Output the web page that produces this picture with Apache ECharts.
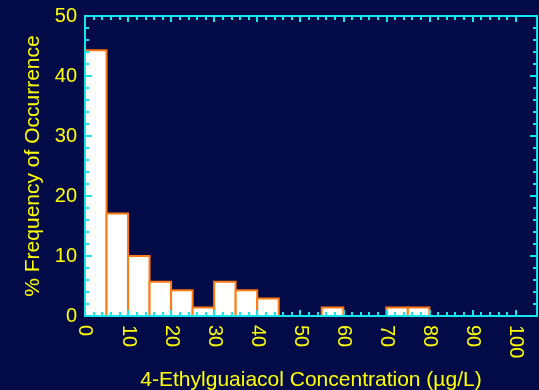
<!DOCTYPE html>
<html><head><meta charset="utf-8">
<script src="https://cdn.jsdelivr.net/npm/echarts@6/dist/echarts.min.js"></script>
<style>html,body{margin:0;padding:0;background:#020B48;}#c{width:539px;height:390px;}</style>
</head><body><div id="c"></div>
<script>
const binStarts = [0, 5, 10, 15, 20, 25, 30, 35, 40, 45, 50, 55, 60, 65, 70, 75];
const binWidth = 5;
const frequency = [44.3, 17.1, 10.0, 5.7, 4.3, 1.4, 5.7, 4.3, 2.9, 0, 0, 1.4, 0, 0, 1.4, 1.4];
const xTicks = [0, 10, 20, 30, 40, 50, 60, 70, 80, 90, 100];
const xMinorTicks = [0, 2, 4, 6, 8, 10, 12, 14, 16, 18, 20, 22, 24, 26, 28, 30, 32, 34, 36, 38, 40, 42, 44, 46, 48, 50,
  52, 54, 56, 58, 60, 62, 64, 66, 68, 70, 72, 74, 76, 78, 80, 82, 84, 86, 88, 90, 92, 94, 96, 98, 100];
const yTicks = [0, 10, 20, 30, 40, 50];
const xTitle = '4-Ethylguaiacol Concentration (µg/L)';
const yTitle = '% Frequency of Occurrence';

const cyan = '#14E6EC', yellow = '#FFFF00', orange = '#FF7A10', bg = '#020B48';
const font = 'Liberation Sans';
const data = binStarts.map((s, i) => [s, s + binWidth, frequency[i]]);

const axisLine = { show: true, onZero: false, lineStyle: { color: cyan, width: 2 } };

function xAxisDef(position, ticks, len, extra) {
  return Object.assign({
    type: 'value', min: 0, max: 105, position: position,
    axisLine: axisLine,
    axisTick: { show: true, inside: true, length: len, customValues: ticks, lineStyle: { color: cyan, width: 2 } },
    axisLabel: { show: false },
    splitLine: { show: false },
    z: 10
  }, extra || {});
}
function yAxisDef(position, extra) {
  return Object.assign({
    type: 'value', min: 0, max: 50, interval: 10, position: position,
    axisLine: axisLine,
    axisTick: { show: true, inside: true, length: 7, lineStyle: { color: cyan, width: 2 } },
    minorTick: { show: true, splitNumber: 5, length: 4, lineStyle: { color: cyan, width: 2 } },
    axisLabel: { show: false },
    splitLine: { show: false },
    z: 10
  }, extra || {});
}

const chart = echarts.init(document.getElementById('c'), null, { renderer: 'canvas' });
chart.setOption({
  backgroundColor: bg,
  animation: false,
  grid: { left: 85, top: 16, right: 2, bottom: 74, show: false, containLabel: false, outerBoundsMode: 'none' },
  xAxis: [
    xAxisDef('bottom', xTicks, 6, {
      name: xTitle, nameLocation: 'middle', nameGap: 54,
      nameTextStyle: { color: yellow, fontSize: 21, fontFamily: font },
      axisLabel: { show: true, color: yellow, fontSize: 20, fontFamily: font, rotate: -90, margin: 9, customValues: xTicks }
    }),
    xAxisDef('bottom', xMinorTicks, 4),
    xAxisDef('top', xTicks, 6),
    xAxisDef('top', xMinorTicks, 4)
  ],
  yAxis: [
    yAxisDef('left', {
      name: yTitle, nameLocation: 'middle', nameGap: 40,
      nameTextStyle: { color: yellow, fontSize: 21, fontFamily: font },
      axisLabel: { show: true, color: yellow, fontSize: 20, fontFamily: font, margin: 8,
        formatter: v => yTicks.includes(v) ? String(v) : '' }
    }),
    yAxisDef('right')
  ],
  series: [{
    type: 'custom',
    xAxisIndex: 0, yAxisIndex: 0,
    z: 2,
    data: data,
    renderItem: function (params, api) {
      const x0 = api.value(0), x1 = api.value(1), y = api.value(2);
      if (!y) return null;
      const p0 = api.coord([x0, y]);
      const p1 = api.coord([x1, 0]);
      return {
        type: 'rect',
        shape: { x: p0[0], y: p0[1], width: p1[0] - p0[0], height: p1[1] - p0[1] },
        style: { fill: '#FFFFFF', stroke: orange, lineWidth: 2 }
      };
    }
  }]
});
</script>
</body></html>
